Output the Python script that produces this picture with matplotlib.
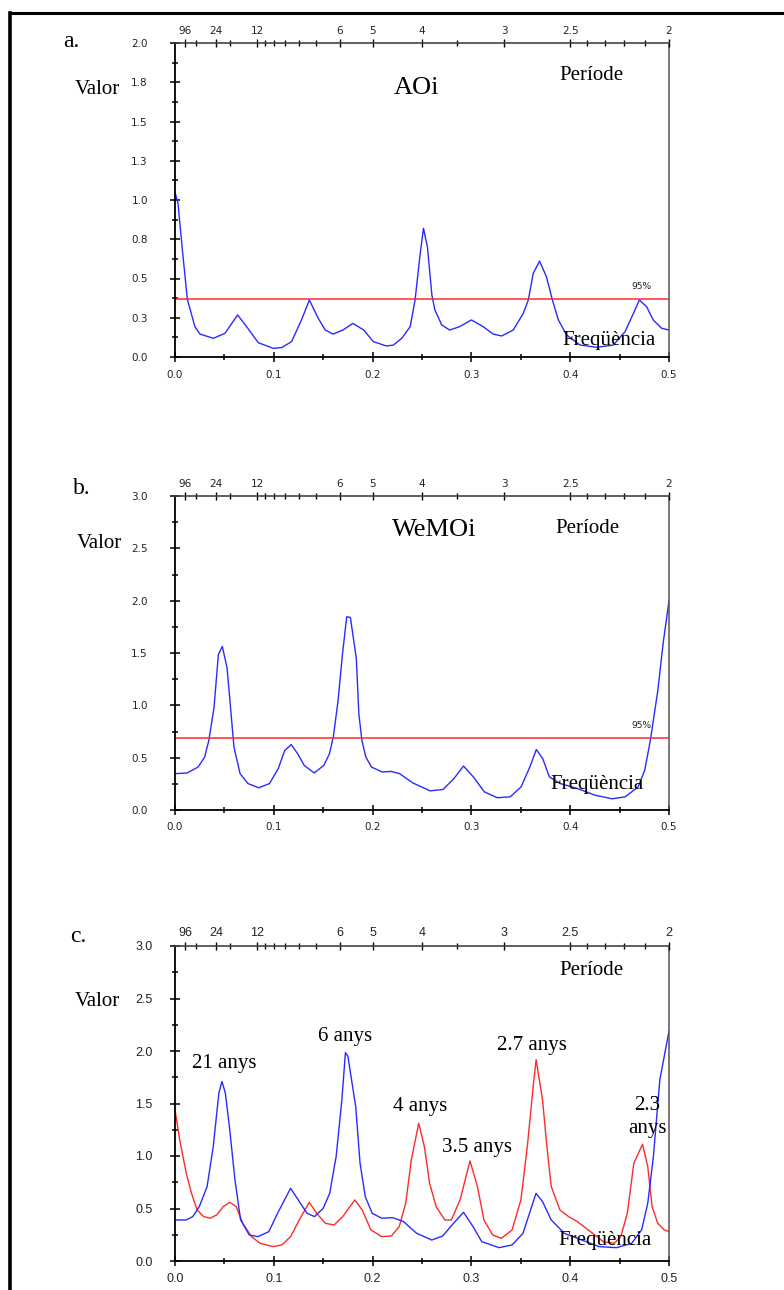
import matplotlib
matplotlib.use("Agg")
import matplotlib.pyplot as plt
from matplotlib.lines import Line2D

# ---- data ----
# a. AOi
freq_aoi = [0.0, 0.003, 0.0075, 0.0125, 0.0202, 0.0253, 0.0388, 0.0506, 0.0634, 0.0725,
            0.0843, 0.0995, 0.108, 0.118, 0.128, 0.136, 0.145, 0.152, 0.160, 0.170,
            0.180, 0.191, 0.2007, 0.214, 0.221, 0.2295, 0.238, 0.243, 0.248, 0.2515,
            0.2555, 0.26, 0.263, 0.27, 0.278, 0.288, 0.300, 0.312, 0.322, 0.3307,
            0.3424, 0.3525, 0.3576, 0.3626, 0.369, 0.376, 0.382, 0.388, 0.3964, 0.41,
            0.4268, 0.4436, 0.4555, 0.464, 0.47, 0.4774, 0.484, 0.4925, 0.5]
val_aoi = [1.05, 0.98, 0.68, 0.367, 0.193, 0.146, 0.119, 0.151, 0.268, 0.193,
           0.091, 0.055, 0.06, 0.098, 0.236, 0.363, 0.246, 0.172, 0.146, 0.172,
           0.214, 0.172, 0.098, 0.07, 0.076, 0.119, 0.193, 0.363, 0.65, 0.82,
           0.7, 0.395, 0.30, 0.204, 0.172, 0.193, 0.236, 0.193, 0.146, 0.134,
           0.172, 0.278, 0.363, 0.533, 0.611, 0.51, 0.363, 0.236, 0.14, 0.076,
           0.062, 0.076, 0.161, 0.278, 0.363, 0.32, 0.236, 0.183, 0.172]
sig_aoi = 0.367

# b. WeMOi
freq_wemoi = [0.0, 0.0123, 0.0233, 0.030, 0.0342, 0.0395, 0.0439, 0.0479, 0.0527, 0.0562,
              0.0597, 0.0659, 0.0738, 0.0847, 0.0957, 0.1045, 0.111, 0.1177, 0.1242, 0.1308,
              0.1409, 0.1506, 0.1563, 0.1602, 0.165, 0.1694, 0.1738, 0.1775, 0.1835, 0.1861,
              0.1892, 0.1932, 0.1989, 0.2098, 0.2186, 0.2274, 0.2406, 0.2581, 0.2713, 0.2823,
              0.292, 0.302, 0.313, 0.3262, 0.3393, 0.3503, 0.3591, 0.3657, 0.3723, 0.3789,
              0.3898, 0.4074, 0.4249, 0.4425, 0.4557, 0.4688, 0.4754, 0.4811, 0.4886, 0.4943, 0.5]
val_wemoi = [0.347, 0.354, 0.41, 0.505, 0.663, 0.979, 1.484, 1.563, 1.358, 0.979,
             0.6, 0.347, 0.253, 0.212, 0.253, 0.395, 0.568, 0.625, 0.537, 0.426,
             0.354, 0.426, 0.537, 0.695, 1.04, 1.48, 1.846, 1.84, 1.45, 0.916,
             0.663, 0.505, 0.41, 0.363, 0.369, 0.347, 0.259, 0.183, 0.196, 0.3,
             0.42, 0.316, 0.174, 0.117, 0.126, 0.221, 0.41, 0.578, 0.489, 0.316,
             0.253, 0.205, 0.142, 0.107, 0.126, 0.221, 0.379, 0.663, 1.137, 1.61, 2.0]
sig_wemoi = 0.69

# c. both series
freq_c_blue = [0.0, 0.0114, 0.018, 0.0246, 0.0325, 0.0387, 0.0444, 0.0475, 0.051, 0.0554,
               0.0607, 0.0664, 0.0752, 0.084, 0.095, 0.1038, 0.117, 0.1258, 0.1337, 0.1412,
               0.15, 0.1566, 0.1631, 0.1689, 0.1725, 0.175, 0.1829, 0.1873, 0.1926, 0.1996,
               0.2093, 0.2203, 0.2313, 0.2445, 0.2599, 0.2709, 0.2819, 0.292, 0.3017, 0.3105,
               0.3281, 0.3412, 0.3522, 0.3588, 0.3654, 0.372, 0.3808, 0.394, 0.4116, 0.4292,
               0.4468, 0.4622, 0.4723, 0.4785, 0.4842, 0.4907, 0.5]
val_c_blue = [0.391, 0.391, 0.423, 0.518, 0.709, 1.09, 1.598, 1.71, 1.598, 1.249,
              0.772, 0.391, 0.248, 0.232, 0.28, 0.454, 0.693, 0.566, 0.454, 0.423,
              0.502, 0.645, 0.995, 1.535, 1.985, 1.95, 1.471, 0.931, 0.613, 0.454,
              0.407, 0.413, 0.375, 0.264, 0.2, 0.238, 0.359, 0.464, 0.327, 0.184,
              0.127, 0.153, 0.264, 0.454, 0.645, 0.566, 0.391, 0.264, 0.2, 0.137,
              0.127, 0.168, 0.296, 0.55, 0.995, 1.725, 2.19]
freq_c_red = [0.0, 0.0048, 0.0114, 0.0167, 0.0224, 0.029, 0.0356, 0.0422, 0.0488, 0.0554,
              0.062, 0.0686, 0.0774, 0.0862, 0.0994, 0.1082, 0.117, 0.1258, 0.1359, 0.1434,
              0.1522, 0.161, 0.1698, 0.182, 0.1895, 0.1983, 0.2093, 0.219, 0.2269, 0.2335,
              0.2392, 0.2467, 0.2524, 0.2577, 0.2643, 0.2731, 0.2797, 0.2885, 0.2986, 0.3061,
              0.3127, 0.3215, 0.3303, 0.3412, 0.3501, 0.3566, 0.3632, 0.3655, 0.372, 0.3764,
              0.3808, 0.3896, 0.3984, 0.4072, 0.4204, 0.4336, 0.4446, 0.4512, 0.4578, 0.4644,
              0.4732, 0.4785, 0.4829, 0.4886, 0.4952, 0.5]
val_c_red = [1.44, 1.153, 0.836, 0.645, 0.486, 0.423, 0.407, 0.439, 0.518, 0.559,
             0.518, 0.359, 0.232, 0.168, 0.137, 0.153, 0.232, 0.391, 0.559, 0.454,
             0.359, 0.343, 0.423, 0.582, 0.486, 0.296, 0.232, 0.238, 0.327, 0.55,
             0.963, 1.312, 1.09, 0.74, 0.518, 0.391, 0.391, 0.582, 0.953, 0.709,
             0.391, 0.248, 0.216, 0.296, 0.582, 1.09, 1.725, 1.918, 1.535, 1.09,
             0.709, 0.486, 0.423, 0.375, 0.28, 0.184, 0.168, 0.232, 0.454, 0.931,
             1.112, 0.899, 0.518, 0.359, 0.296, 0.28]

periods = [96, 24, 12, 6, 5, 4, 3, 2.5, 2]
period_labels = ["96", "24", "12", "6", "5", "4", "3", "2.5", "2"]
period_minor = [48, 18, 11, 10, 9, 8, 7, 3.5, 2.4, 2.3, 2.2, 2.1]

BLUE = "#2a2aff"
RED = "#ff2a2a"
SERIF = ["Liberation Serif", "DejaVu Serif"]
NARROW = ["Liberation Sans Narrow", "DejaVu Sans"]
SANS = ["Liberation Sans", "DejaVu Sans"]

fig = plt.figure(figsize=(7.84, 12.9), dpi=100)

L, W, H = 175 / 784, 494 / 784, 314 / 1290


def make_panel(bottom_px, top_px, ymax, ystep, ylabels, tickfont, tsize, ypad):
    ax = fig.add_axes([L, 1 - bottom_px / 1290, W, (bottom_px - top_px) / 1290])
    ax.set_xlim(0, 0.5)
    ax.set_ylim(0, ymax)
    ax.set_xticks([0.0, 0.1, 0.2, 0.3, 0.4, 0.5])
    ax.set_xticks([0.05, 0.15, 0.25, 0.35, 0.45], minor=True)
    yt = [i * ystep for i in range(len(ylabels))]
    ax.set_yticks(yt)
    ax.set_yticklabels(ylabels)
    ax.set_yticks([v + ystep / 2 for v in yt[:-1]], minor=True)
    ax.tick_params(which="major", direction="inout", length=7, width=1.1, colors="black")
    ax.tick_params(which="minor", direction="inout", length=5, width=1.1)
    ax.tick_params(axis="y", which="major", pad=ypad)
    ax.tick_params(axis="x", which="major", pad=5.5)
    for lab in ax.get_xticklabels() + ax.get_yticklabels():
        lab.set_fontfamily(tickfont)
        lab.set_fontsize(tsize)
        lab.set_color("#222222")
    ax.spines["left"].set_linewidth(1.3)
    ax.spines["bottom"].set_linewidth(1.3)
    ax.spines["top"].set_visible(False)
    ax.spines["right"].set_color("#555555")
    ax.spines["right"].set_linewidth(1.1)

    top = ax.twiny()
    top.set_xlim(0, 0.5)
    top.set_xticks([1 / p for p in periods])
    top.set_xticklabels(period_labels)
    top.set_xticks([1 / p for p in period_minor], minor=True)
    top.tick_params(which="major", direction="inout", length=6, width=1.0, pad=2)
    top.tick_params(which="minor", direction="inout", length=5, width=1.0)
    for lab in top.get_xticklabels():
        lab.set_fontfamily(tickfont)
        lab.set_fontsize(tsize)
        lab.set_color("#222222")
    for s in ["left", "right", "bottom"]:
        top.spines[s].set_visible(False)
    top.spines["top"].set_color("#444444")
    top.spines["top"].set_linewidth(1.2)
    return ax


# a.
ax_a = make_panel(357, 43, 2.0, 0.25,
                  ["0.0", "0.3", "0.5", "0.8", "1.0", "1.3", "1.5", "1.8", "2.0"],
                  NARROW, 7.5, 16)
ax_a.plot(freq_aoi, val_aoi, color=BLUE, lw=1.0)
ax_a.axhline(sig_aoi, color=RED, lw=1.1)
ax_a.text(0.4724, 0.448, "95%", family=NARROW, fontsize=6.5, ha="center", va="center", color="#222222")
ax_a.text(0.244, 1.713, "AOi", family=SERIF, fontsize=19, ha="center", va="center")
ax_a.text(0.422, 1.796, "Període", family=SERIF, fontsize=15, ha="center", va="center")
ax_a.text(0.439, 0.108, "Freqüència", family=SERIF, fontsize=15, ha="center", va="center")
fig.text(71.7 / 784, 1 - 41.7 / 1290, "a.", family=SERIF, fontsize=17, ha="center", va="center")
fig.text(97.6 / 784, 1 - 90 / 1290, "Valor", family=SERIF, fontsize=15, ha="center", va="center")

# b.
ax_b = make_panel(810, 496, 3.0, 0.5,
                  ["0.0", "0.5", "1.0", "1.5", "2.0", "2.5", "3.0"],
                  NARROW, 7.5, 16)
ax_b.plot(freq_wemoi, val_wemoi, color=BLUE, lw=1.0)
ax_b.axhline(sig_wemoi, color=RED, lw=1.1)
ax_b.text(0.472, 0.805, "95%", family=NARROW, fontsize=6.5, ha="center", va="center", color="#222222")
ax_b.text(0.262, 2.674, "WeMOi", family=SERIF, fontsize=19, ha="center", va="center")
ax_b.text(0.417, 2.693, "Període", family=SERIF, fontsize=15, ha="center", va="center")
ax_b.text(0.427, 0.239, "Freqüència", family=SERIF, fontsize=15, ha="center", va="center")
fig.text(82 / 784, 1 - 489 / 1290, "b.", family=SERIF, fontsize=17, ha="center", va="center")
fig.text(99 / 784, 1 - 543 / 1290, "Valor", family=SERIF, fontsize=15, ha="center", va="center")

# c.
ax_c = make_panel(1261, 946, 3.0, 0.5,
                  ["0.0", "0.5", "1.0", "1.5", "2.0", "2.5", "3.0"],
                  SANS, 9, 12.5)
ax_c.plot(freq_c_red, val_c_red, color=RED, lw=1.0)
ax_c.plot(freq_c_blue, val_c_blue, color=BLUE, lw=1.0)
ax_c.text(0.422, 2.763, "Període", family=SERIF, fontsize=15, ha="center", va="center")
ax_c.text(0.0496, 1.88, "21 anys", family=SERIF, fontsize=15, ha="center", va="center")
ax_c.text(0.172, 2.137, "6 anys", family=SERIF, fontsize=15, ha="center", va="center")
ax_c.text(0.248, 1.472, "4 anys", family=SERIF, fontsize=15, ha="center", va="center")
ax_c.text(0.3055, 1.085, "3.5 anys", family=SERIF, fontsize=15, ha="center", va="center")
ax_c.text(0.3613, 2.051, "2.7 anys", family=SERIF, fontsize=15, ha="center", va="center")
ax_c.text(0.4778, 1.37, "2.3\nanys", family=SERIF, fontsize=15, ha="center", va="center",
          linespacing=1.25)
ax_c.text(0.435, 0.2, "Freqüència", family=SERIF, fontsize=15, ha="center", va="center")
fig.text(78 / 784, 1 - 937 / 1290, "c.", family=SERIF, fontsize=17, ha="center", va="center")
fig.text(97.6 / 784, 1 - 1002 / 1290, "Valor", family=SERIF, fontsize=15, ha="center", va="center")

# outer frame (top and left only)
fig.add_artist(Line2D([10 / 784, 1.0], [1 - 13 / 1290, 1 - 13 / 1290], color="black", lw=2.2))
fig.add_artist(Line2D([10 / 784, 10 / 784], [0.0, 1 - 13 / 1290], color="black", lw=2.6))

fig.savefig("out.png", dpi=100)
